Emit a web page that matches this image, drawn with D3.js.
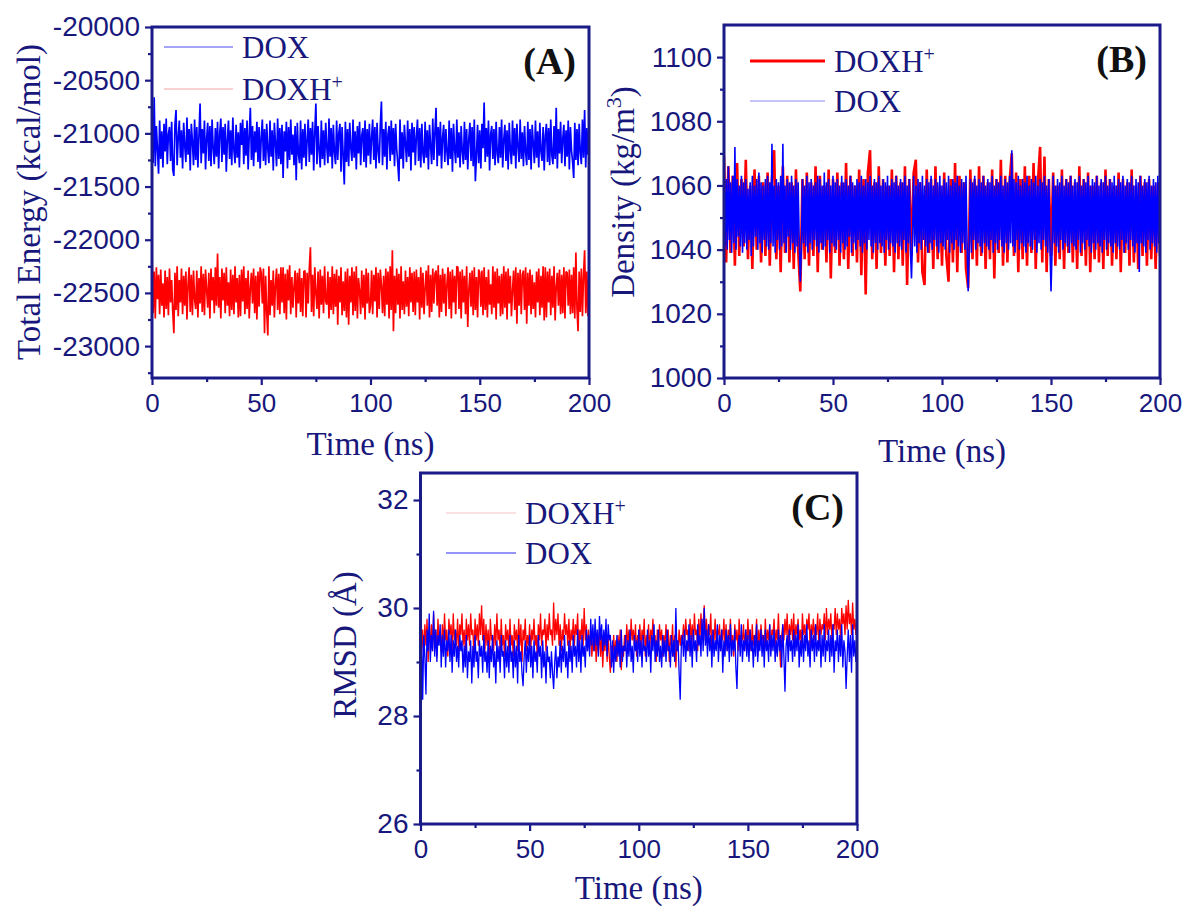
<!DOCTYPE html>
<html><head><meta charset="utf-8">
<script src="https://cdn.jsdelivr.net/npm/d3@7"></script>
<style>body{margin:0;background:#fff} svg{display:block}</style>
</head><body><svg id="chart" width="1189" height="909"></svg>
<script>
// ---------------- data ----------------
const timeRange = [0, 200];
const xTicks = [0, 50, 100, 150, 200];
const xMinorTicks = [25, 75, 125, 175];
const energyTicks = [-20000, -20500, -21000, -21500, -22000, -22500, -23000];
const energyMinor = [-20250, -20750, -21250, -21750, -22250, -22750, -23250];
const densityTicks = [1000, 1020, 1040, 1060, 1080, 1100];
const densityMinor = [1010, 1030, 1050, 1070, 1090];
const rmsdTicks = [26, 28, 30, 32];
const rmsdMinor = [27, 29, 31];

// (A) total energy, kcal/mol (0.5 ns sampling)
const energyDOX = [
-21050,-21280,-20660,-21310,-20930,-21150,-21380,-20880,-21240,-20980,-21320,-20910,-21170,-20860,-21290,-21010,-20940,-21260,-20890,-21340,
-21400,-20920,-20780,-21300,-21040,-20880,-21230,-20970,-21330,-20900,-21120,-21270,-20850,-21200,-20960,-21350,-20910,-21080,-21300,-20870,
-21250,-20940,-21320,-21010,-20720,-21280,-20960,-21190,-20880,-21340,-21050,-20900,-21260,-20930,-21310,-20870,-21140,-21290,-20950,-21220,
-20890,-21330,-21000,-20860,-21270,-20940,-21200,-20910,-21360,-21060,-20880,-21240,-20970,-21300,-20850,-21160,-21280,-20920,-21230,-20990,
-21320,-20900,-21110,-20870,-21290,-20950,-21210,-20880,-21340,-21020,-20760,-21250,-20930,-21310,-20980,-21180,-20890,-21270,-20940,-21330,
-21030,-20870,-21260,-20960,-21300,-20910,-21150,-21280,-20880,-21220,-20970,-21350,-20900,-21090,-21310,-20860,-21240,-20950,-21290,-20920,
-21420,-20980,-21170,-20890,-21330,-20940,-21250,-20870,-21200,-21010,-21300,-20930,-21440,-20900,-21190,-21280,-20880,-21340,-20960,-21230,
-20910,-21310,-21060,-20870,-21270,-20950,-21200,-20890,-21350,-20990,-20720,-21290,-20930,-21160,-21320,-20880,-21240,-20970,-21300,-20900,
-21130,-21280,-20860,-21220,-20950,-21330,-20920,-21180,-21290,-20880,-21250,-21000,-20910,-21360,-20940,-21210,-21480,-20890,-21270,-20960,
-21310,-20900,-21140,-21260,-20870,-21230,-20980,-21340,-20930,-21190,-20890,-21300,-21020,-20950,-21270,-20880,-21320,-20960,-21210,-20910,
-21290,-21040,-20870,-21250,-20940,-21330,-20900,-21170,-21280,-20920,-20700,-21300,-20960,-21220,-20890,-21340,-21010,-20930,-21260,-20880,
-21200,-20950,-21310,-20910,-21150,-21290,-21450,-20870,-21240,-20990,-21330,-20920,-21100,-21270,-20880,-21220,-20960,-21350,-20900,-21180,
-20940,-21300,-21030,-20870,-21260,-20950,-21320,-20910,-21190,-21280,-20890,-21230,-20970,-21340,-20920,-21120,-21290,-20860,-21250,-20980,
-20760,-21310,-20940,-21210,-20890,-21330,-21040,-20920,-21270,-20960,-21180,-21300,-20880,-21240,-20950,-21360,-20910,-21150,-21280,-20870,
-21230,-20990,-21320,-20930,-21170,-21290,-20890,-21250,-20960,-21340,-21050,-20900,-21260,-20940,-21310,-20870,-21450,-21200,-20920,-21280,
-20970,-21330,-20910,-21140,-20710,-21270,-20950,-21220,-20880,-21350,-21010,-20930,-21240,-20960,-21300,-20890,-21190,-21280,-20940,-21230,
-20870,-21320,-21060,-20920,-21260,-20970,-21340,-20900,-21160,-21290,-20880,-21210,-20950,-21330,-20910,-21120,-21270,-20870,-21240,-20990,
-21310,-20930,-21180,-21300,-20890,-21250,-20960,-21340,-20920,-21100,-21280,-20880,-21230,-20980,-21320,-20900,-21170,-21260,-20940,-21350,
-21020,-20910,-21270,-20950,-21300,-20870,-21210,-21290,-20930,-21240,-20760,-21330,-20960,-21190,-20890,-21280,-21050,-20920,-21310,-20970,
-21220,-20880,-21340,-20940,-21160,-21270,-21420,-20900,-21250,-20960,-21300,-20910,-21180,-21290,-20870,-21230,-20780,-21320,-20950,-21200,
-20920];
const energyDOXH = [
-22100,-22690,-22300,-22740,-22260,-22560,-22330,-22700,-22280,-22620,-22410,-22730,-22290,-22650,-22350,-22710,-22270,-22590,-22380,-22680,
-22880,-22310,-22660,-22250,-22720,-22380,-22590,-22270,-22700,-22340,-22620,-22300,-22750,-22420,-22260,-22680,-22330,-22710,-22290,-22560,
-22650,-22290,-22730,-22360,-22600,-22250,-22680,-22320,-22710,-22280,-22470,-22640,-22310,-22740,-22270,-22570,-22350,-22690,-22260,-22620,
-22130,-22640,-22350,-22740,-22270,-22570,-22310,-22690,-22260,-22620,-22400,-22720,-22280,-22660,-22330,-22700,-22250,-22590,-22360,-22730,
-22330,-22720,-22280,-22580,-22250,-22700,-22360,-22650,-22290,-22740,-22460,-22310,-22600,-22270,-22690,-22340,-22750,-22300,-22630,-22260,
-22310,-22600,-22270,-22880,-22340,-22680,-22900,-22250,-22710,-22380,-22620,-22290,-22730,-22420,-22270,-22660,-22320,-22700,-22260,-22590,
-22260,-22690,-22320,-22750,-22280,-22570,-22240,-22700,-22350,-22640,-22440,-22290,-22730,-22310,-22600,-22270,-22680,-22360,-22720,-22300,
-22290,-22730,-22310,-22600,-22270,-22070,-22680,-22330,-22720,-22260,-22500,-22650,-22300,-22740,-22280,-22610,-22340,-22690,-22250,-22580,
-22610,-22300,-22740,-22350,-22660,-22250,-22700,-22320,-22630,-22280,-22800,-22340,-22590,-22260,-22710,-22390,-22670,-22300,-22730,-22270,
-22800,-22340,-22590,-22260,-22710,-22300,-22670,-22250,-22740,-22360,-22480,-22700,-22290,-22640,-22330,-22750,-22270,-22600,-22310,-22690,
-22620,-22290,-22700,-22330,-22580,-22260,-22730,-22310,-22650,-22280,-22430,-22690,-22340,-22720,-22270,-22610,-22300,-22740,-22250,-22660,
-22100,-22860,-22340,-22690,-22270,-22610,-22320,-22740,-22250,-22660,-22390,-22700,-22290,-22630,-22350,-22720,-22260,-22590,-22310,-22680,
-22300,-22710,-22280,-22590,-22350,-22750,-22260,-22640,-22310,-22700,-22450,-22290,-22620,-22240,-22730,-22330,-22680,-22270,-22600,-22320,
-22290,-22620,-22240,-22730,-22330,-22680,-22270,-22600,-22320,-22720,-22410,-22260,-22650,-22300,-22740,-22280,-22590,-22340,-22700,-22250,
-22260,-22650,-22300,-22740,-22280,-22590,-22340,-22700,-22250,-22820,-22470,-22310,-22630,-22290,-22710,-22260,-22660,-22350,-22730,-22280,
-22310,-22630,-22290,-22710,-22260,-22660,-22350,-22730,-22280,-22610,-22420,-22700,-22250,-22640,-22300,-22750,-22270,-22600,-22340,-22720,
-22320,-22700,-22250,-22640,-22300,-22750,-22270,-22600,-22340,-22720,-22480,-22290,-22660,-22260,-22790,-22310,-22620,-22280,-22700,-22330,
-22290,-22660,-22260,-22790,-22310,-22620,-22280,-22700,-22330,-22650,-22400,-22730,-22300,-22590,-22270,-22710,-22340,-22640,-22250,-22760,
-22260,-22730,-22300,-22590,-22270,-22710,-22340,-22640,-22250,-22760,-22440,-22310,-22620,-22280,-22700,-22330,-22690,-22260,-22740,-22300,
-22310,-22620,-22280,-22700,-22330,-22690,-22260,-22740,-22120,-22650,-22860,-22300,-22680,-22270,-22720,-22330,-22100,-22690,-22300,-22720,
-22300];

// (B) density, kg/m3
const densityDOXH = [
1069,1036,1066,1039,1063,1035,1067,1038,1062,1041,1068,1037,1060,1034,1065,1040,1063,1036,1061,1038,
1064,1035,1062,1071,1037,1060,1033,1066,1039,1063,1036,1061,1034,1065,1040,1027,1062,1037,1064,1035,
1061,1038,1066,1033,1063,1040,1060,1036,1065,1031,1062,1039,1064,1035,1061,1037,1067,1034,1063,1038,
1060,1036,1065,1032,1062,1026,1064,1071,1037,1061,1034,1066,1039,1062,1035,1060,1038,1065,1033,1063,
1037,1061,1035,1066,1029,1062,1038,1064,1068,1036,1061,1033,1029,1065,1039,1062,1034,1066,1037,1060,
1035,1064,1038,1030,1062,1036,1067,1033,1063,1039,1061,1034,1028,1065,1037,1062,1035,1066,1038,1063,
1034,1061,1037,1065,1031,1062,1039,1068,1035,1063,1036,1061,1070,1038,1064,1033,1062,1037,1066,1035,
1063,1039,1067,1034,1061,1072,1036,1069,1033,1062,1038,1064,1035,1060,1037,1065,1034,1062,1039,1063,
1036,1061,1034,1066,1038,1062,1035,1064,1033,1060,1037,1063,1036,1061,1034,1065,1038,1062,1035,1060,
1037,1064,1033,1062,1039,1061,1035,1065,1036,1060,1034,1063,1038,1061,1035,1062,1037,1060,1034,1061,1038];
const densityDOX = [
1064,1041,1062,1040,1066,1043,1061,1039,1063,1042,1072,1040,1062,1044,1060,1041,1063,1039,1061,1042,
1062,1040,1059,1043,1061,1038,1063,1041,1060,1044,1062,1040,1064,1042,1061,1039,1060,1043,1062,1041,
1063,1040,1061,1042,1073,1041,1060,1039,1062,1043,1061,1040,1063,1041,1073,1042,1060,1039,1062,1044,
1061,1040,1063,1042,1060,1039,1062,1041,1061,1043,1030,1040,1062,1042,1060,1041,1063,1039,1061,1042,
1062,1040,1060,1043,1061,1041,1063,1039,1062,1042,1060,1040,1064,1041,1061,1043,1062,1039,1060,1042,
1063,1041,1061,1040,1062,1043,1060,1039,1063,1042,1061,1040,1062,1041,1060,1044,1063,1039,1061,1042,
1060,1040,1062,1043,1061,1041,1063,1039,1060,1042,1062,1040,1061,1043,1063,1041,1060,1039,1062,1042,
1061,1040,1063,1042,1060,1041,1062,1039,1061,1043,1063,1040,1060,1042,1062,1041,1061,1039,1063,1042,
1060,1041,1062,1040,1061,1043,1063,1039,1060,1042,1062,1040,1031,1044,1063,1041,1060,1039,1062,1042,
1061,1040,1063,1043,1060,1041,1062,1039,1061,1042,1063,1040,1060,1043,1062,1041,1061,1039,1063,1042,
1060,1041,1062,1040,1061,1043,1063,1039,1060,1042,1062,1040,1061,1043,1063,1041,1060,1039,1062,1042,
1061,1040,1063,1042,1027,1041,1062,1039,1061,1043,1063,1040,1060,1042,1062,1041,1061,1039,1063,1042,
1060,1041,1062,1040,1061,1043,1063,1039,1060,1042,1062,1040,1061,1043,1063,1041,1060,1039,1062,1042,
1061,1040,1063,1042,1071,1041,1062,1039,1061,1043,1063,1040,1060,1042,1062,1041,1061,1039,1063,1042,
1060,1041,1062,1040,1061,1043,1063,1039,1060,1042,1062,1040,1061,1043,1063,1041,1060,1039,1062,1042,
1027,1040,1063,1042,1060,1041,1062,1039,1061,1043,1063,1040,1060,1042,1062,1041,1061,1039,1063,1042,
1060,1041,1062,1040,1061,1043,1063,1039,1060,1042,1062,1040,1061,1043,1063,1041,1060,1039,1062,1042,
1061,1040,1063,1042,1060,1041,1062,1039,1061,1043,1063,1040,1060,1042,1062,1041,1061,1039,1063,1042,
1060,1041,1062,1040,1061,1043,1063,1039,1060,1042,1062,1040,1061,1043,1063,1041,1060,1039,1062,1042,
1061,1033,1063,1042,1060,1041,1062,1039,1061,1043,1063,1040,1060,1042,1062,1041,1061,1039,1063,1042,
1060];

// (C) RMSD, Å
const rmsdDOXH = [
29.9,29.2,29.6,29.1,29.7,29.3,29.8,29.0,29.5,29.4,29.7,29.2,29.9,29.3,29.6,29.1,29.8,29.4,29.5,29.2,
29.7,29.3,29.9,29.4,29.6,29.1,29.8,29.5,29.7,29.2,29.9,29.4,29.6,29.3,29.8,29.2,29.7,29.5,29.9,29.3,
29.6,29.2,29.8,29.4,29.7,29.3,29.9,29.5,29.6,29.1,29.8,29.4,29.7,29.3,29.9,29.5,30.05,29.4,29.8,29.2,
29.7,29.3,29.6,29.1,29.8,29.4,29.5,29.2,29.7,29.3,29.9,29.4,29.6,29.2,29.8,29.3,29.5,29.1,29.7,29.4,
29.6,29.2,29.8,29.3,29.5,29.1,29.7,29.4,29.6,29.2,29.8,29.3,29.7,29.0,29.6,29.4,29.8,29.2,29.5,29.3,
29.7,29.2,29.6,29.4,29.8,29.3,29.5,29.1,29.7,29.4,29.9,29.3,29.6,29.5,29.8,29.2,29.7,29.4,29.9,29.5,
29.6,29.3,30.1,29.4,29.8,29.5,29.9,29.3,29.7,29.2,29.6,29.4,29.9,29.5,29.7,29.3,29.8,29.2,29.6,29.4,
29.8,29.3,29.7,29.5,29.9,29.2,29.6,29.4,29.8,29.3,30.0,29.4,29.7,29.2,29.6,29.3,29.5,29.1,29.4,29.2,
29.5,29.0,29.4,29.2,29.6,29.1,29.5,28.9,29.4,29.2,29.6,29.0,29.5,29.1,28.8,29.3,29.0,29.5,29.1,29.4,
29.0,29.5,29.2,29.6,28.85,29.3,29.1,29.5,29.2,29.7,29.3,29.6,29.2,29.8,29.4,29.6,29.3,29.7,29.1,29.5,
29.3,29.7,29.2,29.6,29.4,29.8,29.1,29.5,29.3,29.7,29.2,29.6,29.4,29.8,29.3,29.5,29.0,29.6,29.2,29.7,
29.4,29.6,29.1,29.5,29.3,29.7,29.2,29.6,29.0,29.5,29.3,29.7,29.1,29.5,28.9,29.4,29.2,29.6,29.3,29.5,
29.4,29.7,29.3,29.8,29.5,29.6,29.2,29.8,29.4,29.7,29.3,29.9,29.5,29.6,29.2,29.8,29.4,29.9,29.5,29.7,
30.05,29.4,29.8,29.3,29.7,29.5,29.9,29.2,29.6,29.4,29.8,29.3,29.6,29.5,29.7,29.2,29.6,29.4,29.8,29.3,
29.7,29.2,29.6,29.4,29.8,29.3,29.5,29.1,29.7,29.4,29.6,29.2,29.8,29.3,29.5,29.4,29.7,29.2,29.6,29.3,
29.8,29.4,29.6,29.2,29.7,29.3,29.5,29.4,29.8,29.1,29.6,29.3,29.7,29.4,29.5,29.2,29.8,29.3,29.6,29.4,
29.7,29.2,29.6,29.5,29.8,29.3,29.6,29.4,29.9,29.3,28.9,29.5,29.7,29.4,29.8,29.5,29.9,29.3,29.7,29.5,
29.8,29.4,29.9,29.3,29.7,29.5,29.8,29.4,29.6,29.3,29.9,29.5,29.7,29.4,29.8,29.6,29.9,29.3,29.7,29.5,
29.8,29.4,29.7,29.5,29.9,29.3,29.8,29.5,29.7,29.6,29.9,29.4,30.0,29.5,29.8,29.6,29.9,29.4,29.7,29.6,
30.0,29.5,29.9,29.6,29.8,29.4,30.0,29.7,29.9,29.5,30.05,29.6,30.15,29.7,29.9,29.5,30.1,29.6,29.8,29.5,
29.8];
const rmsdDOX = [
29.0,29.4,28.3,29.5,29.1,28.4,29.6,29.2,29.9,29.0,29.5,29.2,29.95,29.1,29.6,29.0,29.5,29.3,29.7,28.9,
29.5,29.1,29.6,28.9,29.4,29.2,29.6,29.0,29.5,28.8,29.4,29.1,29.6,29.0,29.3,28.9,29.5,29.2,29.4,28.8,
29.3,28.9,29.5,28.7,29.2,29.0,29.4,28.6,29.3,28.9,29.5,29.0,29.2,28.7,29.4,29.1,29.3,28.8,29.5,29.0,
29.2,28.8,29.4,28.7,29.3,29.0,29.5,28.9,29.2,28.6,29.4,29.0,29.3,28.8,29.5,29.1,29.2,28.7,29.4,28.9,
29.3,28.8,29.5,29.0,29.2,28.7,29.4,28.9,29.3,28.6,29.5,29.0,29.2,28.8,28.55,29.1,29.4,28.8,29.3,29.0,
29.5,28.9,29.3,28.7,29.4,29.0,29.2,28.8,29.5,29.1,29.3,28.7,29.4,28.9,29.2,28.6,29.3,29.0,29.1,28.7,
29.2,28.8,28.5,29.0,29.3,28.7,29.1,28.9,29.4,28.8,29.3,29.0,29.5,28.9,29.2,28.7,29.4,29.0,29.3,28.8,
29.5,29.1,29.3,28.9,29.6,29.0,29.4,28.8,29.5,29.1,29.3,28.9,29.6,29.2,29.5,29.1,29.8,29.3,29.7,29.2,
29.8,29.3,29.6,29.1,29.85,29.4,29.7,29.2,29.6,29.3,29.8,29.1,29.7,29.4,29.5,28.9,29.4,28.8,29.3,29.0,
29.5,29.1,29.4,28.9,29.6,29.0,29.3,29.2,29.5,28.9,29.4,29.1,29.6,29.0,29.3,28.8,29.5,29.2,29.4,29.0,
29.6,29.1,29.4,28.9,29.5,29.2,29.3,29.0,29.6,29.1,29.4,28.8,29.5,29.2,29.7,29.0,29.4,29.1,29.6,29.0,
29.3,28.9,29.5,29.1,29.4,29.0,29.6,29.2,29.3,28.9,29.5,29.1,29.4,29.0,30.0,29.2,29.4,28.8,28.3,29.3,
29.5,29.1,29.6,29.0,29.4,29.2,29.7,29.1,29.5,28.9,29.6,29.2,29.4,29.0,29.7,29.3,29.5,29.1,29.8,29.2,
30.0,29.3,29.6,29.1,29.7,29.2,29.5,28.9,29.6,29.1,29.4,29.2,29.7,29.0,29.5,29.2,29.6,28.8,29.4,29.1,
29.6,29.2,29.5,29.0,29.7,29.1,29.4,29.2,29.6,28.9,28.5,29.3,29.5,29.1,29.7,29.0,29.4,29.2,29.6,29.1,
29.5,29.0,29.6,29.2,29.4,28.9,29.5,29.1,29.7,29.0,29.4,29.2,29.6,29.1,29.5,28.9,29.6,29.2,29.4,29.0,
29.7,29.1,29.5,29.2,29.6,29.0,29.4,29.1,29.6,29.2,29.5,28.9,29.7,29.1,28.45,29.3,29.5,29.0,29.6,29.2,
29.4,29.0,29.6,29.1,29.5,29.2,29.7,28.9,29.4,29.1,29.6,29.0,29.5,29.2,29.7,29.1,29.4,28.9,29.6,29.2,
29.5,29.0,29.7,29.1,29.4,29.2,29.6,28.9,29.5,29.1,29.7,29.0,29.4,29.2,29.6,29.0,29.5,29.1,29.7,28.8,
29.4,29.2,29.6,29.0,29.5,29.1,29.7,28.9,29.4,29.2,28.5,29.1,29.6,29.0,29.5,28.8,29.7,29.1,29.4,29.0,
29.4];

// ---------------- drawing ----------------
const NAVY = "#1a1a88";
const TEXT = "#17177c";
const SERIF = "'Liberation Serif','Times New Roman',serif";
const SANS = "'Liberation Sans',Arial,sans-serif";
const svg = d3.select("#chart");
const defs = svg.append("defs");

function panel(cfg, idx) {
  const x = d3.scaleLinear().domain(timeRange).range([cfg.left, cfg.right]);
  const y = d3.scaleLinear().domain(cfg.yDomain).range([cfg.bottom, cfg.top]);
  const g = svg.append("g");
  const cid = "clip" + idx;
  defs.append("clipPath").attr("id", cid).append("rect")
    .attr("x", cfg.left).attr("y", cfg.top)
    .attr("width", cfg.right - cfg.left).attr("height", cfg.bottom - cfg.top);

  // series
  const dg = g.append("g").attr("clip-path", `url(#${cid})`);
  cfg.series.forEach(s => {
    const n = s.values.length;
    const line = d3.line()
      .x((d, i) => x(timeRange[0] + i * (timeRange[1] - timeRange[0]) / (n - 1)))
      .y(d => y(d));
    dg.append("path").datum(s.values).attr("d", line)
      .attr("fill", "none").attr("stroke", s.color)
      .attr("stroke-width", s.width).attr("stroke-linejoin", "bevel");
  });

  // axes
  const styleAxis = (sel, fs) => {
    sel.select(".domain").remove();
    sel.selectAll("line").attr("stroke", NAVY).attr("stroke-width", 2.2);
    sel.selectAll("text").attr("fill", TEXT).attr("font-family", SANS).attr("font-size", fs);
  };
  g.append("g").attr("transform", `translate(0,${cfg.bottom})`)
    .call(d3.axisBottom(x).tickValues(xMinorTicks).tickSize(4).tickFormat(""))
    .call(styleAxis, 26);
  g.append("g").attr("transform", `translate(0,${cfg.bottom})`)
    .call(d3.axisBottom(x).tickValues(xTicks).tickSize(7).tickPadding(9).tickFormat(d => String(d)))
    .call(styleAxis, 26);
  g.append("g").attr("transform", `translate(${cfg.left},0)`)
    .call(d3.axisLeft(y).tickValues(cfg.yMinor).tickSize(4).tickFormat(""))
    .call(styleAxis, 28);
  g.append("g").attr("transform", `translate(${cfg.left},0)`)
    .call(d3.axisLeft(y).tickValues(cfg.yTicks).tickSize(7).tickPadding(5).tickFormat(d => String(d)))
    .call(styleAxis, 28);

  // frame
  g.append("rect").attr("x", cfg.left).attr("y", cfg.top)
    .attr("width", cfg.right - cfg.left).attr("height", cfg.bottom - cfg.top)
    .attr("fill", "none").attr("stroke", NAVY).attr("stroke-width", 3);

  // x title
  g.append("text").attr("x", (cfg.left + cfg.right) / 2).attr("y", cfg.xTitleY)
    .attr("text-anchor", "middle").attr("font-family", SERIF).attr("font-size", 33)
    .attr("fill", TEXT).text("Time (ns)");
  // y title
  const yt = g.append("text")
    .attr("transform", `translate(${cfg.yTitleX},${cfg.yTitleCY}) rotate(-90)`)
    .attr("text-anchor", "middle").attr("font-family", SERIF).attr("font-size", 33)
    .attr("fill", TEXT);
  cfg.yTitle.forEach(p => {
    const t = yt.append("tspan").text(p.t);
    if (p.sup) t.attr("dy", -13).attr("font-size", 22);
    if (p.after) t.attr("dy", 13);
  });

  // legend
  cfg.legend.forEach((L, i) => {
    const ly = cfg.legendY[i];
    g.append("line").attr("x1", cfg.legendX).attr("x2", cfg.legendX + cfg.legendLen)
      .attr("y1", ly).attr("y2", ly).attr("stroke", L.color).attr("stroke-width", L.width);
    const t = g.append("text").attr("x", cfg.legendX + cfg.legendLen + 9).attr("y", ly + 11)
      .attr("font-family", SERIF).attr("font-size", 31).attr("fill", TEXT);
    t.append("tspan").text(L.name);
    if (L.sup) t.append("tspan").attr("dy", -11).attr("font-size", 20).text(L.sup);
  });

  // panel tag
  g.append("text").attr("x", cfg.right - 13).attr("y", cfg.top + 47)
    .attr("text-anchor", "end").attr("font-family", SERIF).attr("font-weight", "bold")
    .attr("font-size", 38).attr("fill", "#111").text(cfg.tag);
}

panel({
  left: 152, right: 589, top: 27, bottom: 378, yDomain: [-23300, -20000],
  yTicks: energyTicks, yMinor: energyMinor,
  xTitleY: 455, yTitleX: 40, yTitleCY: 202,
  yTitle: [{t: "Total Energy (kcal/mol)"}],
  series: [
    {values: energyDOX, color: "#0000ff", width: 1.7},
    {values: energyDOXH, color: "#ff0000", width: 1.7}
  ],
  legend: [
    {name: "DOX", color: "#4a4af0", width: 1.2},
    {name: "DOXH", sup: "+", color: "#f4a4a4", width: 1.2}
  ],
  legendX: 164, legendLen: 69, legendY: [47, 89], tag: "(A)"
}, 0);

panel({
  left: 724, right: 1160, top: 25, bottom: 378, yDomain: [1000, 1110],
  yTicks: densityTicks, yMinor: densityMinor,
  xTitleY: 462, yTitleX: 634, yTitleCY: 192,
  yTitle: [{t: "Density (kg/m"}, {t: "3", sup: true}, {t: ")", after: true}],
  series: [
    {values: densityDOXH, color: "#ff0000", width: 2.6},
    {values: densityDOX, color: "#0000ff", width: 1.6}
  ],
  legend: [
    {name: "DOXH", sup: "+", color: "#ff0000", width: 3},
    {name: "DOX", color: "#8c8cf5", width: 1}
  ],
  legendX: 750, legendLen: 75, legendY: [61, 101], tag: "(B)"
}, 1);

panel({
  left: 420.5, right: 857, top: 473, bottom: 824, yDomain: [26, 32.5],
  yTicks: rmsdTicks, yMinor: rmsdMinor,
  xTitleY: 899, yTitleX: 356, yTitleCY: 645,
  yTitle: [{t: "RMSD (Å)"}],
  series: [
    {values: rmsdDOXH, color: "#ff0000", width: 1.3},
    {values: rmsdDOX, color: "#0000ff", width: 1.3}
  ],
  legend: [
    {name: "DOXH", sup: "+", color: "#f6c4c4", width: 1.2},
    {name: "DOX", color: "#2a2af5", width: 1.2}
  ],
  legendX: 446, legendLen: 70, legendY: [513, 553], tag: "(C)"
}, 2);
</script></body></html>
